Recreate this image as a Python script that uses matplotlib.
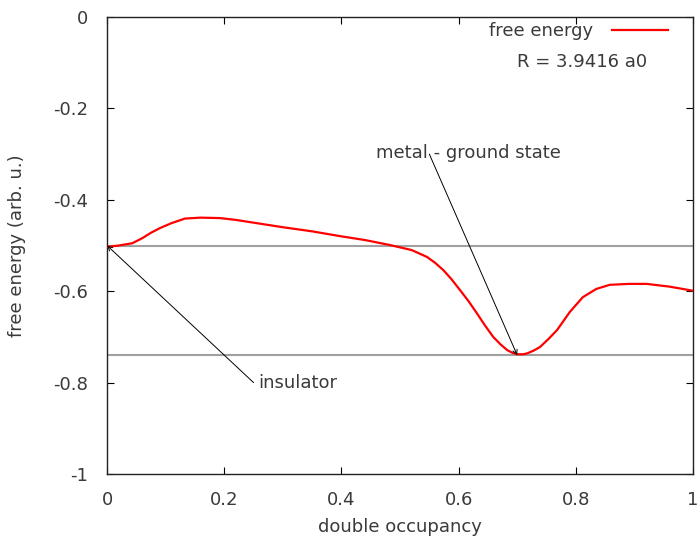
import matplotlib
matplotlib.use("Agg")
import matplotlib.pyplot as plt

# free energy curve
occupancy = [0, 0.02, 0.043, 0.06, 0.075, 0.09, 0.11, 0.133, 0.16, 0.193,
             0.22, 0.26, 0.3, 0.35, 0.4, 0.44, 0.483, 0.52, 0.546, 0.56,
             0.574, 0.588, 0.602, 0.617, 0.631, 0.645, 0.659, 0.672, 0.683,
             0.692, 0.70, 0.71, 0.717, 0.728, 0.739, 0.753, 0.768, 0.79,
             0.812, 0.835, 0.858, 0.89, 0.921, 0.96, 1.0]
energy = [-0.503, -0.500, -0.495, -0.484, -0.472, -0.462, -0.451, -0.441,
          -0.439, -0.440, -0.444, -0.452, -0.460, -0.469, -0.480, -0.488,
          -0.499, -0.510, -0.525, -0.538, -0.554, -0.574, -0.597, -0.622,
          -0.648, -0.675, -0.700, -0.717, -0.729, -0.735, -0.738, -0.738,
          -0.736, -0.730, -0.722, -0.705, -0.685, -0.645, -0.613, -0.595,
          -0.586, -0.584, -0.584, -0.590, -0.599]

insulator_level = -0.5
metal_level = -0.74

xticks = [0, 0.2, 0.4, 0.6, 0.8, 1]
yticks = [0, -0.2, -0.4, -0.6, -0.8, -1]

txt = "#3a3a3a"
fs = 13
plt.rcParams['font.family'] = 'DejaVu Sans'

fig = plt.figure(figsize=(7, 5.36), dpi=100)
ax = fig.add_axes([0.153, 0.1157, 0.837, 0.8525])

ax.plot(occupancy, energy, color="red", lw=1.6, label="free energy", zorder=3)
ax.axhline(insulator_level, color="#a0a0a0", lw=1.5, zorder=2)
ax.axhline(metal_level, color="#a0a0a0", lw=1.5, zorder=2)

ax.set_xlim(0, 1)
ax.set_ylim(-1, 0)
ax.set_xticks(xticks)
ax.set_xticklabels(["0", "0.2", "0.4", "0.6", "0.8", "1"])
ax.set_yticks(yticks)
ax.set_yticklabels(["0", "-0.2", "-0.4", "-0.6", "-0.8", "-1"])
ax.tick_params(direction="in", top=True, right=True, length=5, width=0.8,
               labelsize=fs, labelcolor=txt)
ax.tick_params(axis="y", pad=14)
ax.tick_params(axis="x", pad=12)
for s in ax.spines.values():
    s.set_linewidth(1.0)
    s.set_color("#222222")

ax.set_xlabel("double occupancy", fontsize=fs, color=txt)
ax.xaxis.set_label_coords(0.5, -0.116)
ax.xaxis.label.set_va("center")
ax.set_ylabel("free energy (arb. u.)", fontsize=fs, color=txt)
ax.yaxis.set_label_coords(-0.1536, 0.5)
ax.yaxis.label.set_va("center")

arrow = dict(arrowstyle="->", color="black", lw=0.7, shrinkA=0, shrinkB=0,
             mutation_scale=8)
ax.annotate("", xy=(0, insulator_level), xytext=(0.25, -0.8), arrowprops=arrow)
ax.text(0.258, -0.8, "insulator", fontsize=fs, color=txt, va="center", ha="left")
ax.annotate("", xy=(0.70, metal_level), xytext=(0.55, -0.30), arrowprops=arrow)
ax.text(0.459, -0.298, "metal - ground state", fontsize=fs, color=txt,
        va="center", ha="left")

leg = ax.legend(loc="center right", frameon=False, markerfirst=False,
                fontsize=fs, handlelength=3.1, handletextpad=1.05,
                borderpad=0, borderaxespad=0,
                bbox_to_anchor=(0.957, 0.969))
for t in leg.get_texts():
    t.set_color(txt)
ax.text(0.699, -0.098, "R = 3.9416 a0", fontsize=fs, color=txt,
        va="center", ha="left")

fig.savefig("out.png", dpi=100)
